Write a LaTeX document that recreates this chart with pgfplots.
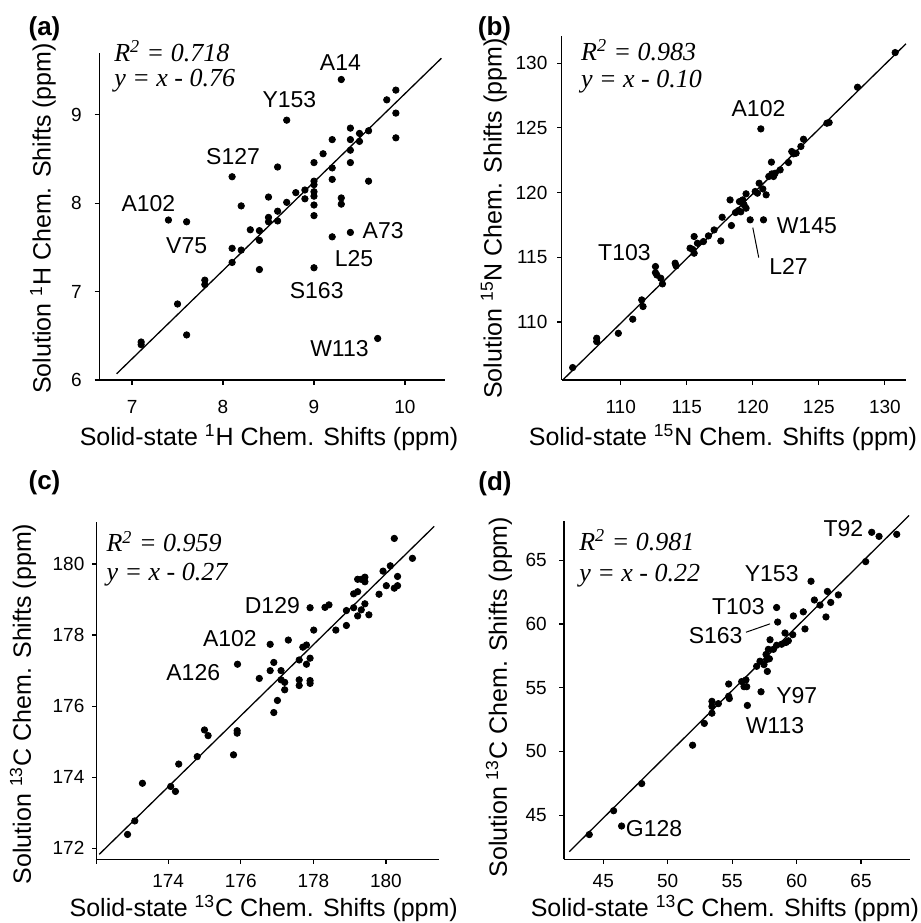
\documentclass[border=0pt]{standalone}
\usepackage{fontspec}
\setmainfont{Liberation Sans}
\newfontfamily\tnr{Liberation Serif}
\usepackage{pgfplots}
\pgfplotsset{compat=1.18}
\pgfplotsset{
  panel/.style={
    scale only axis,
    axis lines*=left,
    axis line style={line width=0.6pt},
    tick align=outside,
    major tick length=2.3pt,
    tick style={line width=0.6pt, black},
    tick label style={font=\fontsize{9.5}{11}\selectfont},
    /pgf/number format/assume math mode=true,
    label style={font=\fontsize{12.5}{14}\selectfont},
    xlabel style={anchor=base},
    ylabel style={anchor=center},
    clip=false,
  },
  pts/.style={only marks, mark=*, mark size=1.6pt, black},
  fitl/.style={no marks, black, line width=0.65pt},
}
\newcommand{\plab}{\fontsize{11.5}{13}\selectfont}
\newcommand{\rlab}{\fontsize{13}{15}\selectfont\tnr\itshape}
\begin{document}
\begin{tikzpicture}
\useasboundingbox (0,0) rectangle (460.5pt,461.5pt);
\node[font=\fontsize{13}{15}\selectfont\bfseries] at (22.25pt,447pt) {(a)};
\node[font=\fontsize{13}{15}\selectfont\bfseries] at (247.25pt,447pt) {(b)};
\node[font=\fontsize{13}{15}\selectfont\bfseries] at (22.25pt,220.25pt) {(c)};
\node[font=\fontsize{13}{15}\selectfont\bfseries] at (247.5pt,219.75pt) {(d)};
% ---------------- (a)
\begin{axis}[panel,
  at={(49.65pt,271.5pt)}, anchor=south west,
  width=172.85pt, height=163.5pt,
  xmin=6.64, xmax=10.44, ymin=6, ymax=9.70,
  xtick={7,8,9,10}, ytick={6,7,8,9},
  xticklabel style={yshift=-4.5pt}, yticklabel style={xshift=-3pt},
  xlabel={Solid-state \textsuperscript{1}H Chem. Shifts (ppm)},
  ylabel={Solution \textsuperscript{1}H Chem. Shifts (ppm)},
  xlabel style={at={(axis description cs:0.491,-0.199)}},
  ylabel style={at={(axis description cs:-0.163,0.494)}},
]
\addplot[fitl] coordinates {(6.83,6.07) (10.40,9.64)};
\addplot[pts] coordinates {
(9.3,9.40) (8.7,8.94) (9.9,9.28) (9.8,9.17) (9.9,9.02) (9.9,8.74) (9.4,8.85)
(9.6,8.82) (9.5,8.79) (9.4,8.72) (9.5,8.70) (9.2,8.72) (9.4,8.60) (9.1,8.56)
(9.4,8.46) (9.0,8.46) (8.6,8.41) (8.1,8.30) (9.2,8.40) (9.2,8.27) (9.6,8.25)
(9.0,8.25) (9.0,8.21) (8.9,8.15) (8.8,8.12) (8.9,8.05) (9.0,8.13) (9.0,8.08)
(9.3,8.06) (9.3,7.99) (8.7,8.01) (8.5,8.07) (8.2,7.97) (9.0,7.98) (9.0,7.86)
(8.6,7.91) (8.5,7.84) (8.5,7.79) (8.6,7.80) (7.4,7.81) (7.6,7.79) (8.3,7.70)
(8.4,7.69) (8.4,7.58) (9.4,7.67) (9.2,7.62) (8.1,7.49) (8.2,7.47) (8.1,7.33)
(8.4,7.25) (9.0,7.27) (7.8,7.13) (7.8,7.08) (7.5,6.86) (7.6,6.51) (7.1,6.43)
(7.1,6.40) (9.7,6.47)};
\node[font=\rlab, anchor=base west, inner sep=0pt] at (axis cs:6.80,9.605) {R\textsuperscript{2} = 0.718};
\node[font=\rlab, anchor=base west, inner sep=0pt] at (axis cs:6.80,9.318) {y = x - 0.76};
\node[font=\plab] at (axis cs:9.29,9.59) {A14};
\node[font=\plab] at (axis cs:8.73,9.17) {Y153};
\node[font=\plab] at (axis cs:8.11,8.53) {S127};
\node[font=\plab] at (axis cs:7.18,8.00) {A102};
\node[font=\plab] at (axis cs:7.60,7.52) {V75};
\node[font=\plab] at (axis cs:9.76,7.69) {A73};
\node[font=\plab] at (axis cs:9.44,7.37) {L25};
\node[font=\plab] at (axis cs:9.03,7.01) {S163};
\node[font=\plab] at (axis cs:9.28,6.36) {W113};
\end{axis}
% ---------------- (b)
\begin{axis}[panel,
  at={(280.85pt,271.5pt)}, anchor=south west,
  width=172.15pt, height=172pt,
  xmin=105.53, xmax=131.6, ymin=105.51, ymax=132.1,
  xtick={110,115,120,125,130}, ytick={110,115,120,125,130},
  xticklabel style={yshift=-4.5pt}, yticklabel style={xshift=-1.35pt},
  xlabel={Solid-state \textsuperscript{15}N Chem. Shifts (ppm)},
  ylabel={Solution \textsuperscript{15}N Chem. Shifts (ppm)},
  xlabel style={at={(axis description cs:0.4685,-0.189)}},
  ylabel style={at={(axis description cs:-0.197,0.469)}},
]
\addplot[fitl] coordinates {(105.6,105.5) (131.6,131.5)};
\addplot[pts] coordinates {
(106.36,106.47) (108.18,108.74) (108.18,108.48) (109.82,109.12) (110.91,110.21)
(111.59,111.70) (111.69,111.19) (112.63,114.28) (112.63,113.81) (112.73,113.63)
(113.03,113.38) (113.16,112.94) (114.12,114.54) (114.19,114.33) (115.56,116.60)
(115.25,115.70) (115.56,115.31) (115.45,115.60) (115.81,116.08) (116.26,116.21)
(116.64,116.65) (117.07,117.11) (117.58,116.26) (117.68,118.09) (118.28,119.43)
(118.38,117.45) (118.69,118.45) (118.91,118.61) (118.99,119.30) (119.09,118.51)
(119.24,119.43) (119.34,119.05) (119.49,118.79) (119.49,119.90) (119.80,117.89)
(120.18,120.08) (120.35,119.95) (120.48,120.72) (120.61,124.92) (120.76,120.28)
(120.81,117.89) (121.01,119.82) (121.21,121.24) (121.41,122.35) (121.44,121.44)
(121.57,121.24) (121.69,121.49) (122.07,121.75) (122.70,122.32) (122.95,123.17)
(123.08,122.99) (123.28,123.04) (123.64,123.56) (123.84,124.12) (125.61,125.36)
(125.78,125.41) (127.93,128.14) (130.78,130.82)};
\node[font=\rlab, anchor=base west, inner sep=0pt] at (axis cs:106.97,130.2) {R\textsuperscript{2} = 0.983};
\node[font=\rlab, anchor=base west, inner sep=0pt] at (axis cs:106.97,128.15) {y = x - 0.10};
\node[font=\plab] at (axis cs:120.43,126.52) {A102};
\node[font=\plab] at (axis cs:124.09,117.42) {W145};
\node[font=\plab] at (axis cs:122.70,114.28) {L27};
\node[font=\plab] at (axis cs:110.28,115.39) {T103};
\draw[line width=0.5pt] (axis cs:120.0,117.29) -- (axis cs:120.45,114.97);
\end{axis}
% ---------------- (c)
\begin{axis}[panel,
  at={(48.35pt,31.85pt)}, anchor=south west,
  width=171.3pt, height=168.8pt,
  xmin=172.03, xmax=181.47, ymin=171.69, ymax=181.19,
  xtick={174,176,178,180}, ytick={172,174,176,178,180},
  extra x ticks={172.03}, extra x tick labels={},
  xticklabel style={yshift=-1.75pt}, yticklabel style={xshift=-0.35pt},
  xlabel={Solid-state \textsuperscript{13}C Chem. Shifts (ppm)},
  ylabel={Solution \textsuperscript{13}C Chem. Shifts (ppm)},
  xlabel style={at={(axis description cs:0.4875,-0.168)}},
  ylabel style={at={(axis description cs:-0.215,0.46)}},
]
\addplot[fitl] coordinates {(172.1,171.83) (181.33,181.06)};
\addplot[pts] coordinates {
(172.88,172.39) (173.08,172.77) (173.29,173.83) (174.07,173.74) (174.20,173.60)
(174.29,174.37) (174.80,174.58) (175.00,175.33) (175.10,175.17) (175.80,174.63)
(175.90,175.31) (175.90,175.24) (175.91,177.18) (176.51,176.78) (176.81,177.74)
(176.81,177.00) (176.91,177.23) (176.91,175.82) (177.01,176.16) (177.11,177.00)
(177.11,176.74) (177.21,176.67) (177.21,176.46) (177.31,177.86) (177.61,177.30)
(177.61,176.74) (177.61,176.58) (177.71,177.66) (177.81,177.72) (177.81,177.18)
(177.91,177.35) (177.91,176.72) (177.91,176.64) (177.91,178.77) (178.01,178.14)
(178.32,178.78) (178.43,178.85) (178.62,178.14) (178.91,178.27) (178.91,178.69)
(179.11,178.77) (179.11,179.16) (179.22,179.22) (179.22,178.54) (179.22,179.57)
(179.32,179.57) (179.42,179.63) (179.42,179.50) (179.32,178.71) (179.42,178.88)
(179.53,178.57) (179.81,179.15) (179.92,179.80) (180.01,179.39) (180.12,179.95)
(180.23,180.72) (180.23,179.32) (180.32,179.65) (180.32,179.39) (180.73,180.16)};
\node[font=\rlab, anchor=base west, inner sep=0pt] at (axis cs:172.29,180.34) {R\textsuperscript{2} = 0.959};
\node[font=\rlab, anchor=base west, inner sep=0pt] at (axis cs:172.29,179.55) {y = x - 0.27};
\node[font=\plab] at (axis cs:176.87,178.83) {D129};
\node[font=\plab] at (axis cs:175.70,177.89) {A102};
\node[font=\plab] at (axis cs:174.69,176.95) {A126};
\end{axis}
% ---------------- (d)
\begin{axis}[panel,
  at={(282pt,31.85pt)}, anchor=south west,
  width=173pt, height=169.3pt,
  xmin=41.95, xmax=68.8, ymin=41.54, ymax=68.1,
  xtick={45,50,55,60,65}, ytick={45,50,55,60,65},
  xticklabel style={yshift=-1.75pt}, yticklabel style={xshift=-2.85pt},
  xlabel={Solid-state \textsuperscript{13}C Chem. Shifts (ppm)},
  ylabel={Solution \textsuperscript{13}C Chem. Shifts (ppm)},
  xlabel style={at={(axis description cs:0.465,-0.1675)}},
  ylabel style={at={(axis description cs:-0.188,0.479)}},
]
\addplot[fitl] coordinates {(42.36,42.14) (68.73,68.51)};
\addplot[pts] coordinates {
(43.91,43.48) (45.80,45.35) (46.42,44.15) (47.98,47.48) (51.93,50.49)
(52.84,52.20) (53.43,53.93) (53.43,53.53) (53.43,53.00) (53.93,53.75)
(54.73,55.29) (54.73,54.33) (54.78,54.15) (55.74,55.48) (55.92,55.08)
(56.07,55.61) (56.13,55.08) (56.18,53.61) (56.90,56.68) (57.24,54.68)
(57.16,57.08) (57.47,56.81) (57.63,57.61) (57.68,57.21) (57.73,56.28)
(57.81,58.01) (57.89,57.27) (57.94,58.76) (58.20,58.01) (58.45,58.33)
(58.45,61.29) (58.53,60.15) (58.84,58.41) (59.10,59.29) (59.18,58.55)
(59.36,58.68) (59.70,59.16) (59.75,60.63) (60.52,60.95) (60.65,59.61)
(61.12,63.35) (61.38,61.88) (61.82,61.48) (62.28,60.55) (62.39,62.55)
(62.65,61.69) (63.24,62.28) (65.36,64.89) (65.83,67.19) (66.40,66.87)
(67.77,67.03)};
\node[font=\rlab, anchor=base west, inner sep=0pt] at (axis cs:43.11,65.75) {R\textsuperscript{2} = 0.981};
\node[font=\rlab, anchor=base west, inner sep=0pt] at (axis cs:43.11,63.35) {y = x - 0.22};
\node[font=\plab] at (axis cs:63.63,67.48) {T92};
\node[font=\plab] at (axis cs:58.07,63.93) {Y153};
\node[font=\plab] at (axis cs:55.48,61.35) {T103};
\node[font=\plab] at (axis cs:53.72,59.08) {S163};
\node[font=\plab] at (axis cs:60.01,54.41) {Y97};
\node[font=\plab] at (axis cs:58.32,52.01) {W113};
\node[font=\plab, anchor=west, inner sep=0pt] at (axis cs:46.73,43.93) {G128};
\draw[line width=0.5pt] (axis cs:56.07,59.35) -- (axis cs:57.94,60.01);
\end{axis}
\end{tikzpicture}
\end{document}
